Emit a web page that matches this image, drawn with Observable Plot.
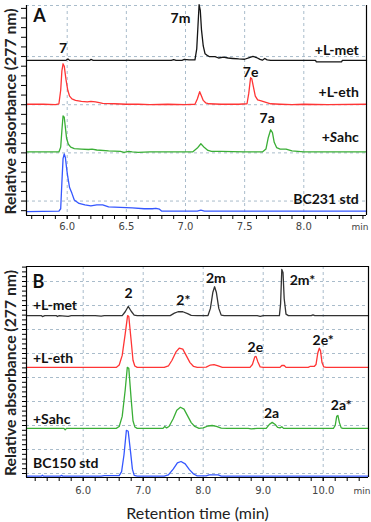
<!DOCTYPE html>
<html><head><meta charset="utf-8">
<script src="https://cdn.jsdelivr.net/npm/d3@7"></script>
<script src="https://cdn.jsdelivr.net/npm/@observablehq/plot@0.6"></script>
<style>
body{margin:0;background:#fff;width:371px;height:522px;overflow:hidden;font-family:Lato,sans-serif}
#a{position:absolute;left:0;top:0}
#b{position:absolute;left:0;top:250px}
svg{display:block}
</style></head><body><div id="a"></div><div id="b"></div>
<script>
// ---- series names & colours ----
const names = ["met", "eth", "sahc", "std"];
const colorsA = ["#151515", "#ff3535", "#3aae36", "#3557ff"];
const colorsB = ["#333333", "#ff3535", "#3aae36", "#3557ff"];

// ---- Panel A: BC231 (time min, relative absorbance above each trace's baseline) ----
const aMet = [[5.656,0],[5.99,0],[6.0,0.12],[6.01,0.12],[6.02,0],[6.19,0],[6.2,0.1],[6.22,0],[6.88,0],[6.9,0.08],[6.92,0],[6.97,0],[6.99,0.1],[7.03,0.05],[7.08,0.05],[7.095,1.2],[7.105,3.5],[7.115,5.8],[7.125,5.2],[7.135,3.2],[7.15,1.5],[7.165,0.7],[7.18,0.55],[7.2,0.4],[7.25,0.4],[7.28,0.25],[7.32,0.35],[7.36,0.25],[7.4,0.2],[7.45,0.15],[7.5,0.12],[7.54,0.3],[7.57,0.42],[7.6,0.3],[7.63,0.1],[7.65,0.02],[7.67,0.2],[7.69,0.05],[7.72,0],[8.1,0],[8.105,-0.15],[8.32,-0.15],[8.325,0],[8.53,0]];
const aEth = [[5.656,0.05],[5.8,0.05],[5.9,0],[5.93,0.1],[5.945,1.5],[5.955,3.5],[5.965,4.25],[5.975,4.0],[5.99,2.6],[6.005,1.5],[6.02,0.9],[6.04,0.6],[6.07,0.45],[6.12,0.35],[6.17,0.3],[6.2,0.35],[6.24,0.3],[6.3,0.15],[6.4,0.1],[6.5,0.05],[6.6,0.05],[6.7,0],[6.85,0.05],[7.0,0],[7.08,0.05],[7.1,0.6],[7.12,1.35],[7.135,0.9],[7.15,0.45],[7.17,0.2],[7.2,0.1],[7.3,0.05],[7.45,0.05],[7.52,0.1],[7.535,1.2],[7.55,2.8],[7.56,2.7],[7.575,1.8],[7.59,0.9],[7.61,0.5],[7.64,0.4],[7.68,0.25],[7.72,0.1],[7.8,0.05],[7.9,0],[8.0,0.05],[8.2,0],[8.53,0.05]];
const aSahc = [[5.656,0],[5.93,0],[5.945,0.5],[5.955,2.2],[5.965,3.75],[5.975,3.6],[5.985,2.5],[5.995,1.4],[6.01,0.8],[6.03,0.5],[6.06,0.35],[6.12,0.3],[6.18,0.25],[6.21,0.3],[6.25,0.2],[6.35,0.1],[6.45,0.05],[6.48,-0.05],[6.52,0.05],[6.55,0],[6.6,-0.05],[6.7,0],[7.06,0],[7.1,0.4],[7.13,0.85],[7.16,0.45],[7.19,0.15],[7.22,0.05],[7.3,0.05],[7.5,0],[7.65,0],[7.68,0.3],[7.7,1.5],[7.72,2.3],[7.735,2.0],[7.75,1.0],[7.77,0.45],[7.8,0.3],[7.85,0.3],[7.9,0.1],[8.0,0],[8.53,0]];
const aStd = [[5.656,0],[5.93,0.05],[5.945,0.3],[5.955,3.0],[5.965,5.5],[5.975,6.0],[5.985,5.6],[5.995,4.5],[6.005,3.6],[6.02,2.5],[6.04,1.9],[6.06,1.2],[6.1,0.85],[6.15,0.7],[6.2,0.6],[6.25,0.7],[6.3,0.7],[6.35,0.5],[6.45,0.45],[6.55,0.4],[6.65,0.3],[6.72,0.3],[6.75,0.35],[6.78,0.25],[6.8,0.05],[7.1,0.05],[7.13,0.15],[7.16,0.05],[8.53,0.05]];
const aOffsets = [15.6, 11.0, 6.1, -0.1];
const aXTicks = [6.0, 6.5, 7.0, 7.5, 8.0];
const aLabels = [
  {t:5.966, v:16.84, text:"7"}, {t:6.958, v:19.95, text:"7m"},
  {t:7.55, v:14.35, text:"7e"}, {t:7.69, v:9.57, text:"7a"}
];
const aTraceLabels = [
  {t:8.465, v:16.63, text:"+L-met"}, {t:8.465, v:12.27, text:"+L-eth"},
  {t:8.465, v:7.6, text:"+Sahc"}, {t:8.465, v:1.16, text:"BC231 std"}
];

// ---- Panel B: BC150 ----
const bMet = [[5.055,0],[5.3,0],[5.32,-0.2],[5.36,0],[5.55,0],[5.57,-0.2],[5.6,0],[5.75,-0.15],[5.8,0],[6.2,0],[6.3,-0.1],[6.35,0],[6.65,0],[6.7,0.8],[6.75,1.9],[6.8,0.9],[6.85,0.1],[6.9,0],[7.45,0],[7.52,0.5],[7.58,0.8],[7.66,0.8],[7.74,0.4],[7.8,0.05],[7.9,0],[8.08,0],[8.12,1.5],[8.16,4.8],[8.19,6.0],[8.22,4.8],[8.26,1.5],[8.3,0.1],[8.35,0],[8.9,0],[8.95,-0.15],[9.0,0],[9.27,0],[9.29,2.5],[9.31,9.6],[9.33,9.0],[9.35,3.5],[9.38,0.3],[9.42,0],[9.8,0],[9.83,0.15],[9.86,0],[10.755,0]];
const bEth = [[5.055,0],[6.55,0],[6.6,0.5],[6.65,2.5],[6.7,7.0],[6.74,10.8],[6.76,10.6],[6.8,5.5],[6.83,1.5],[6.86,0.3],[6.9,0],[7.35,0],[7.42,0.3],[7.48,1.5],[7.55,3.3],[7.6,4.0],[7.66,3.8],[7.72,2.4],[7.78,1.0],[7.84,0.2],[7.9,0],[8.05,0.05],[8.12,0.5],[8.18,0.6],[8.25,0.3],[8.32,0],[8.78,0],[8.82,0.6],[8.86,2.2],[8.88,2.3],[8.91,1.2],[8.95,0.1],[9.0,0],[9.28,0],[9.31,0.4],[9.35,0.4],[9.38,0],[9.75,0],[9.78,0.2],[9.85,0.2],[9.88,0.6],[9.91,3.0],[9.935,4.0],[9.955,3.5],[9.98,1.0],[10.01,0.1],[10.05,0],[10.755,0]];
const bSahc = [[5.055,0],[5.68,0],[5.7,-0.3],[5.72,0],[6.55,0],[6.6,0.4],[6.65,2.5],[6.7,8.0],[6.735,12.7],[6.76,12.5],[6.8,6.0],[6.83,1.6],[6.86,0.3],[6.9,0],[7.33,0],[7.36,0.4],[7.39,0.1],[7.43,0.4],[7.5,2.0],[7.56,3.8],[7.62,4.4],[7.68,4.0],[7.74,2.6],[7.8,1.2],[7.86,0.4],[7.93,0],[8.0,0.1],[8.08,0.5],[8.15,0.6],[8.22,0.4],[8.3,0.05],[8.4,0],[8.75,0],[8.8,-0.1],[8.9,0],[9.05,0],[9.1,0.8],[9.15,1.25],[9.2,0.8],[9.24,0.2],[9.28,0.1],[9.31,0.35],[9.34,0],[10.17,0],[10.2,0.6],[10.225,2.5],[10.245,2.7],[10.27,1.2],[10.3,0.1],[10.33,0],[10.755,0]];
const bStd = [[5.055,0.05],[5.3,0.05],[5.32,0.25],[5.34,0.05],[5.62,0.05],[5.64,0.2],[5.66,0.05],[6.3,0.05],[6.35,0.15],[6.6,0.15],[6.64,1.0],[6.68,4.5],[6.72,9.6],[6.75,9.4],[6.79,5.0],[6.82,1.5],[6.85,0.2],[6.9,0.05],[7.35,0.05],[7.42,0.3],[7.5,1.5],[7.57,2.8],[7.63,3.1],[7.7,2.6],[7.77,1.4],[7.84,0.5],[7.9,0.1],[8.05,0.1],[8.1,0.3],[8.25,0.3],[8.3,0.05],[10.755,0.05]];
const bOffsets = [32.9, 22.1, 9.4, -0.6];
const bXTicks = [6.0, 7.0, 8.0, 9.0, 10.0];
const bLabels = [
  {t:6.755, v:37.5, text:"2"}, {t:7.67, v:36.0, text:"2*"},
  {t:8.21, v:40.6, text:"2m"}, {t:9.655, v:40.2, text:"2m*"},
  {t:8.87, v:26.25, text:"2e"}, {t:10.0, v:27.7, text:"2e*"},
  {t:9.14, v:12.5, text:"2a"}, {t:10.3, v:14.2, text:"2a*"}
];
const bTraceLabels = [
  {t:5.163, v:35.0, text:"+L-met"}, {t:5.163, v:23.96, text:"+L-eth"},
  {t:5.163, v:11.25, text:"+Sahc"}, {t:5.163, v:2.08, text:"BC150 std"}
];

const yTitle = "Relative absorbance (277 nm)";
const xTitle = "Retention time (min)";

function table(traces, offsets) {
  return traces.flatMap((tr, i) => tr.map(([t, v]) => ({t, v: v + offsets[i], s: names[i]})));
}

const gridStyle = {stroke: "#a9bccb", strokeOpacity: 1, strokeDasharray: "3,3", strokeWidth: 1};
const lblFont = {fontFamily: "Lato", fontWeight: "bold", fontSize: 14, fill: "#111"};

function panel(cfg) {
  const [x0, x1] = cfg.xDomain, [y0, y1] = cfg.yDomain;
  const marks = [
    Plot.gridX(cfg.xTicks, gridStyle),
    Plot.gridY(cfg.yGrid, gridStyle),
    ...(cfg.dashedTop ? [Plot.ruleY([y1], gridStyle)] : [Plot.ruleY([y1], {stroke: "#000", strokeWidth: 1.2})]),
    Plot.line(cfg.data, {x: "t", y: "v", z: "s", stroke: "s", strokeWidth: 1.3, curve: "linear"}),
    Plot.ruleX([x0], {stroke: "#000", strokeWidth: 1.2}),
    Plot.ruleX([x1], {stroke: "#000", strokeWidth: 1.2}),
    Plot.ruleY([y0], {stroke: "#000", strokeWidth: 1.2}),
    Plot.axisX(cfg.xMinor, {tickSize: 4, tickFormat: () => "", label: null, stroke: "#000"}),
    Plot.axisX(cfg.xTicks, {tickSize: 4, tickPadding: cfg.tickPad, tickFormat: d3.format(".1f"), label: null, fill: "#444", stroke: "#000"}),
    Plot.axisY(cfg.yTicks, {tickSize: cfg.yTickSize, tickFormat: () => "", label: null, stroke: "#000"}),
    Plot.text(cfg.labels, {x: "t", y: "v", text: "text", ...lblFont}),
    Plot.text(cfg.traceLabels, {x: "t", y: "v", text: "text", textAnchor: cfg.traceAnchor, ...lblFont}),
    Plot.text([cfg.letter], {x: cfg.letterPos[0], y: cfg.letterPos[1], text: d => d, fontFamily: "Lato", fontWeight: "bold", fontSize: 18, fill: "#111"}),
    Plot.text([yTitle], {frameAnchor: "left", textAnchor: "middle", lineAnchor: "middle", rotate: -90, dx: -16, dy: cfg.titleDy, text: d => d, fontFamily: "Lato", fontWeight: "bold", fontSize: 16, fill: "#222"}),
    Plot.text(["min"], {frameAnchor: "bottom-right", textAnchor: "end", lineAnchor: "middle", dx: 2, dy: cfg.tickPad + 9, text: d => d, fontFamily: "DejaVu Sans", fontSize: 9, fill: "#444"})
  ];
  if (cfg.xTitle) marks.push(Plot.text([cfg.xTitle], {frameAnchor: "bottom", textAnchor: "middle", lineAnchor: "middle", dy: 36, text: d => d, fontFamily: "Lato", fontSize: 16, fill: "#222"}));
  return Plot.plot({
    width: 371, height: cfg.height,
    marginLeft: 26, marginRight: cfg.marginRight, marginTop: cfg.marginTop, marginBottom: cfg.marginBottom,
    x: {domain: cfg.xDomain, label: null},
    y: {domain: cfg.yDomain, label: null},
    color: {domain: names, range: cfg.colors},
    style: {fontFamily: "DejaVu Sans", fontSize: "10px", background: "white", overflow: "visible"},
    marks
  });
}

const plotA = panel({
  height: 240, marginRight: 5, marginTop: 5, marginBottom: 25,
  xDomain: [5.656, 8.53], yDomain: [-0.5, 21.3],
  xTicks: aXTicks, xMinor: d3.range(57, 86).map(d => d / 10),
  yGrid: [1, 6, 11, 16], yTicks: d3.range(0, 22), yTickSize: 5, tickPad: 3,
  dashedTop: true, titleDy: 1, colors: colorsA,
  data: table([aMet, aEth, aSahc, aStd], aOffsets),
  labels: aLabels, traceLabels: aTraceLabels, traceAnchor: "end",
  letter: "A", letterPos: [5.766, 20.16]
});
const plotB = panel({
  height: 272, marginRight: 3, marginTop: 16, marginBottom: 45,
  xDomain: [5.055, 10.755], yDomain: [-0.833, 43.125],
  xTicks: bXTicks, xMinor: d3.range(26, 54).map(d => d / 5),
  yGrid: d3.range(0, 41, 5), yTicks: d3.range(0, 44), yTickSize: 4, tickPad: 5,
  dashedTop: false, titleDy: 1, colors: colorsB,
  data: table([bMet, bEth, bSahc, bStd], bOffsets),
  labels: bLabels, traceLabels: bTraceLabels, traceAnchor: "start",
  letter: "B", letterPos: [5.255, 39.85], xTitle
});
document.getElementById("a").append(plotA);
document.getElementById("b").append(plotB);

const ns = "http://www.w3.org/2000/svg";
[plotA, plotB].forEach(svg => svg.querySelectorAll("text").forEach(el => {
  // fit the rotated axis title inside the frame height, as in the reference
  if (el.textContent === yTitle) {
    el.setAttribute("textLength", "206");
    el.setAttribute("lengthAdjust", "spacingAndGlyphs");
  }
}));
// italic "S" in panel A's "+Sahc"
plotA.querySelectorAll("text").forEach(el => {
  if (el.textContent === "+Sahc") {
    el.textContent = "";
    el.append("+");
    const ts = document.createElementNS(ns, "tspan");
    ts.setAttribute("font-style", "italic");
    ts.textContent = "S";
    el.append(ts);
    el.append("ahc");
  }
});
</script></body></html>
